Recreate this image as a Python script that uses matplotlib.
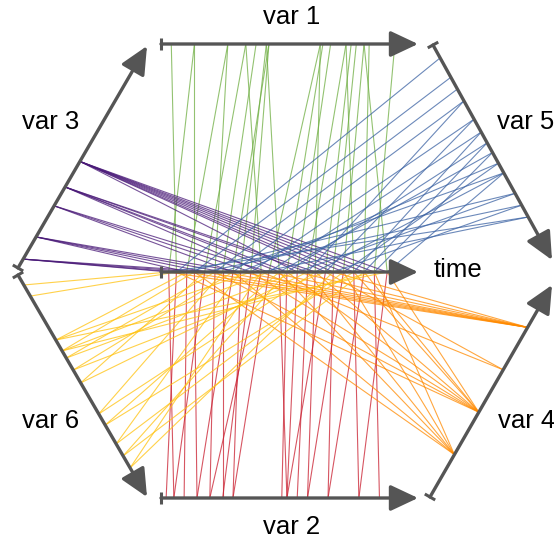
import numpy as np
import matplotlib.pyplot as plt

# values as fractions of each axis length (0 = start tick, 1 = arrow tip)
time = [0.03, 0.06, 0.10, 0.13, 0.17, 0.21, 0.24, 0.28, 0.31, 0.35, 0.39, 0.42,
        0.46, 0.49, 0.53, 0.57, 0.60, 0.64, 0.67, 0.71, 0.75, 0.79, 0.83, 0.88]
var1 = [0.13, 0.04, 0.26, 0.13, 0.33, 0.26, 0.37, 0.42, 0.41, 0.42, 0.33, 0.62,
        0.41, 0.63, 0.66, 0.72, 0.62, 0.74, 0.76, 0.79, 0.72, 0.81, 0.91, 0.79]
var2 = [0.05, 0.02, 0.09, 0.14, 0.05, 0.19, 0.24, 0.14, 0.28, 0.24, 0.19, 0.28,
        0.49, 0.47, 0.49, 0.53, 0.57, 0.49, 0.65, 0.57, 0.77, 0.65, 0.85, 0.77]
var3 = [0.04, 0.04, 0.14, 0.04, 0.14, 0.04, 0.14, 0.28, 0.14, 0.28, 0.365, 0.28,
        0.365, 0.365, 0.48, 0.365, 0.365, 0.48, 0.48, 0.48, 0.48, 0.48, 0.48, 0.48]
var4 = [0.8, 0.4, 0.8, 0.2, 0.8, 0.4, 0.8, 0.2, 0.8, 0.4, 0.6, 0.8,
        0.2, 0.4, 0.8, 0.2, 0.4, 0.6, 0.8, 0.2, 0.4, 0.4, 0.2, 0.4]
var5 = [0.8, 0.06, 0.69, 0.15, 0.745, 0.205, 0.595, 0.26, 0.55, 0.345, 0.8, 0.405,
        0.5, 0.455, 0.69, 0.26, 0.595, 0.345, 0.745, 0.55, 0.405, 0.455, 0.5, 0.595]
var6 = [0.045, 0.095, 0.293, 0.342, 0.486, 0.374, 0.626, 0.428, 0.761, 0.293, 0.869, 0.342,
        0.676, 0.815, 0.374, 0.486, 0.626, 0.428, 0.869, 0.761, 0.676, 0.815, 0.342, 0.293]

# axis geometry (start, end) in figure pixels
axes_geo = {
    "time": ((161, 272), (418, 272)),
    "var 1": ((161, 44), (418, 44)),
    "var 2": ((161, 498), (418, 498)),
    "var 3": ((18, 268), (147, 46)),
    "var 6": ((18, 275), (147, 497)),
    "var 5": ((433, 45), (552, 260)),
    "var 4": ((430, 497), (552, 285)),
}
series = [("var 1", var1, "#6fae42"), ("var 2", var2, "#c91d2e"),
          ("var 3", var3, "#4a1a78"), ("var 5", var5, "#3b62a3"),
          ("var 4", var4, "#ff8a00"), ("var 6", var6, "#ffc20e")]


def pos(name, f):
    (x0, y0), (x1, y1) = axes_geo[name]
    f = np.asarray(f)
    return x0 + f * (x1 - x0), y0 + f * (y1 - y0)


plt.rcParams['font.family'] = ['Liberation Sans', 'DejaVu Sans']
fig = plt.figure(figsize=(5.54, 5.42), dpi=100)
ax = fig.add_axes([0, 0, 1, 1])
ax.set_xlim(0, 554)
ax.set_ylim(542, 0)
ax.axis("off")

tx, ty = pos("time", time)
for name, vals, col in series:
    vx, vy = pos(name, vals)
    for i in range(len(time)):
        ax.plot([tx[i], vx[i]], [ty[i], vy[i]], color=col, lw=0.8, alpha=0.75)

axc = "#555555"
for name, ((x0, y0), (x1, y1)) in axes_geo.items():
    ax.annotate("", xy=(x1, y1), xytext=(x0, y0),
                arrowprops=dict(arrowstyle="-|>,head_length=0.85,head_width=0.4",
                                lw=2.4, color=axc, shrinkA=0, shrinkB=0,
                                mutation_scale=20))
    d = np.array([x1 - x0, y1 - y0], float)
    d /= np.hypot(*d)
    n = np.array([-d[1], d[0]]) * 6
    ax.plot([x0 - n[0], x0 + n[0]], [y0 - n[1], y0 + n[1]], color=axc, lw=2.2,
            solid_capstyle="butt")

labels = {"var 1": (292, 17, "center"), "var 2": (292, 527, "center"),
          "var 3": (51, 122, "center"), "var 6": (51, 421, "center"),
          "var 5": (497, 122, "left"), "var 4": (498, 421, "left"),
          "time": (434, 270, "left")}
for txt, (x, y, ha) in labels.items():
    ax.text(x, y, txt, fontsize=18.5, ha=ha, va="center", color="black")

fig.savefig("out.png", dpi=100)
